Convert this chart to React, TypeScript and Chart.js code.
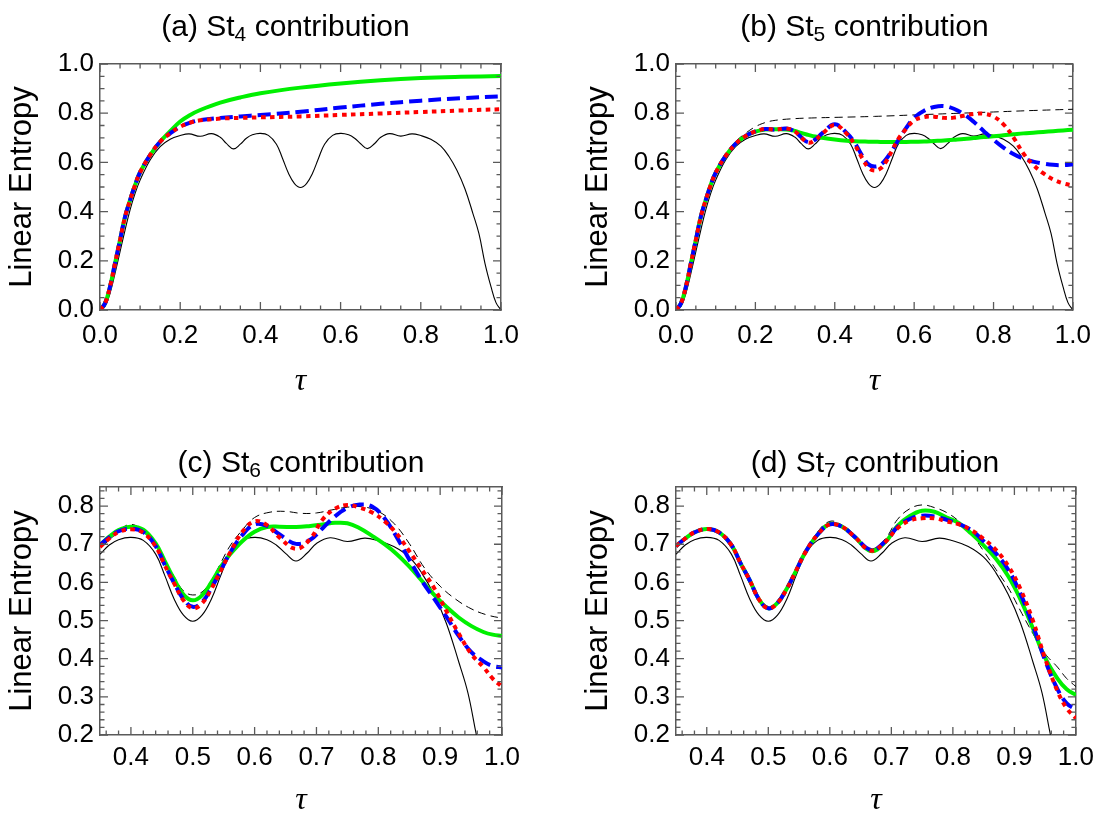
import React, { useEffect, useRef } from "react";
import { Chart, registerables } from "chart.js";

Chart.register(...registerables);

const FONT = "'Liberation Sans', Arial, Helvetica, sans-serif";
const FRAME = "#5a5a5a";

// ---------- data ----------
// thin solid black reference curve (same in all panels)
const tauRef = [0, 0.0125, 0.025, 0.0375, 0.05, 0.0625, 0.075, 0.0875, 0.1, 0.125, 0.15, 0.175, 0.2, 0.222, 0.25, 0.278, 0.3, 0.315, 0.333, 0.35, 0.365, 0.38, 0.4, 0.42, 0.44, 0.455, 0.47, 0.485, 0.5, 0.515, 0.53, 0.545, 0.56, 0.58, 0.6, 0.62, 0.635, 0.65, 0.667, 0.685, 0.7, 0.722, 0.75, 0.778, 0.8, 0.825, 0.85, 0.87, 0.89, 0.91, 0.93, 0.945, 0.96, 0.975, 0.9875, 1.0];
const refCurve = [0, 0.014, 0.068, 0.149, 0.237, 0.325, 0.407, 0.474, 0.528, 0.61, 0.664, 0.694, 0.709, 0.716, 0.706, 0.717, 0.702, 0.677, 0.655, 0.674, 0.698, 0.712, 0.718, 0.71, 0.674, 0.617, 0.556, 0.514, 0.498, 0.514, 0.556, 0.617, 0.674, 0.71, 0.718, 0.712, 0.698, 0.676, 0.656, 0.677, 0.702, 0.717, 0.707, 0.716, 0.709, 0.694, 0.666, 0.625, 0.568, 0.493, 0.392, 0.31, 0.19, 0.095, 0.03, 0];

// panel (a) St4
const tauA = [0, 0.0125, 0.025, 0.0375, 0.05, 0.0625, 0.075, 0.0875, 0.1, 0.125, 0.15, 0.175, 0.2, 0.225, 0.25, 0.3, 0.35, 0.4, 0.5, 0.6, 0.7, 0.8, 0.9, 1.0];
const greenA = [0, 0.027, 0.095, 0.19, 0.285, 0.379, 0.447, 0.508, 0.56, 0.63, 0.684, 0.727, 0.766, 0.793, 0.813, 0.843, 0.864, 0.881, 0.904, 0.921, 0.934, 0.943, 0.948, 0.951];
const blueA = [0, 0.027, 0.095, 0.19, 0.285, 0.379, 0.447, 0.508, 0.56, 0.63, 0.684, 0.718, 0.745, 0.762, 0.772, 0.781, 0.787, 0.793, 0.806, 0.823, 0.838, 0.851, 0.861, 0.868];
const redA = [0, 0.027, 0.095, 0.19, 0.285, 0.379, 0.447, 0.508, 0.56, 0.63, 0.684, 0.718, 0.745, 0.762, 0.771, 0.778, 0.781, 0.783, 0.787, 0.793, 0.799, 0.805, 0.811, 0.816];

// panel (b) St5
const tauB = [0, 0.0125, 0.025, 0.0375, 0.05, 0.0625, 0.075, 0.0875, 0.1, 0.125, 0.15, 0.175, 0.2, 0.225, 0.25, 0.278, 0.3, 0.315, 0.333, 0.35, 0.368, 0.4, 0.43, 0.45, 0.47, 0.485, 0.5, 0.515, 0.53, 0.545, 0.56, 0.58, 0.6, 0.625, 0.65, 0.675, 0.7, 0.725, 0.75, 0.775, 0.8, 0.825, 0.85, 0.875, 0.9, 0.925, 0.95, 0.975, 1.0];
const greenB = [0, 0.027, 0.095, 0.19, 0.285, 0.379, 0.447, 0.508, 0.558, 0.626, 0.675, 0.707, 0.725, 0.734, 0.735, 0.734, 0.728, 0.72, 0.712, 0.705, 0.7, 0.693, 0.688, 0.686, 0.685, 0.684, 0.684, 0.683, 0.683, 0.683, 0.683, 0.683, 0.684, 0.685, 0.687, 0.689, 0.692, 0.695, 0.699, 0.703, 0.706, 0.71, 0.714, 0.718, 0.721, 0.724, 0.727, 0.73, 0.733];
const blueB = [0, 0.027, 0.095, 0.19, 0.285, 0.379, 0.447, 0.508, 0.558, 0.626, 0.675, 0.707, 0.726, 0.736, 0.733, 0.738, 0.725, 0.703, 0.682, 0.692, 0.718, 0.755, 0.72, 0.68, 0.625, 0.592, 0.583, 0.59, 0.615, 0.65, 0.69, 0.74, 0.782, 0.81, 0.825, 0.829, 0.818, 0.796, 0.765, 0.728, 0.692, 0.66, 0.634, 0.615, 0.603, 0.595, 0.59, 0.589, 0.592];
const redB = [0, 0.027, 0.095, 0.19, 0.285, 0.379, 0.447, 0.508, 0.558, 0.626, 0.675, 0.707, 0.726, 0.736, 0.733, 0.738, 0.725, 0.702, 0.68, 0.69, 0.716, 0.752, 0.716, 0.672, 0.615, 0.578, 0.567, 0.575, 0.605, 0.65, 0.695, 0.737, 0.77, 0.784, 0.786, 0.781, 0.782, 0.79, 0.797, 0.798, 0.786, 0.755, 0.702, 0.637, 0.59, 0.556, 0.531, 0.515, 0.506];

// panels (c) St6 and (d) St7
const tauCD = [0.35, 0.365, 0.38, 0.4, 0.42, 0.44, 0.455, 0.47, 0.485, 0.5, 0.515, 0.53, 0.545, 0.56, 0.58, 0.6, 0.62, 0.64, 0.667, 0.69, 0.71, 0.73, 0.75, 0.77, 0.79, 0.81, 0.83, 0.85, 0.87, 0.89, 0.91, 0.93, 0.95, 0.97, 0.985, 1.0];
const greenC = [0.698, 0.72, 0.737, 0.746, 0.738, 0.702, 0.655, 0.608, 0.568, 0.553, 0.566, 0.6, 0.64, 0.673, 0.708, 0.733, 0.745, 0.746, 0.745, 0.748, 0.752, 0.756, 0.755, 0.742, 0.722, 0.7, 0.674, 0.642, 0.605, 0.568, 0.536, 0.508, 0.486, 0.47, 0.463, 0.46];
const blueC = [0.698, 0.718, 0.734, 0.741, 0.732, 0.695, 0.645, 0.598, 0.556, 0.536, 0.548, 0.585, 0.63, 0.677, 0.724, 0.752, 0.748, 0.726, 0.701, 0.712, 0.742, 0.773, 0.795, 0.804, 0.799, 0.768, 0.718, 0.66, 0.605, 0.558, 0.51, 0.46, 0.418, 0.393, 0.381, 0.377];
const redC = [0.693, 0.715, 0.732, 0.739, 0.73, 0.694, 0.644, 0.597, 0.553, 0.532, 0.545, 0.583, 0.63, 0.677, 0.732, 0.76, 0.75, 0.718, 0.688, 0.714, 0.765, 0.793, 0.803, 0.796, 0.783, 0.76, 0.727, 0.682, 0.634, 0.586, 0.525, 0.466, 0.413, 0.378, 0.348, 0.327];
const greenD = [0.695, 0.715, 0.731, 0.74, 0.731, 0.698, 0.65, 0.605, 0.555, 0.532, 0.546, 0.583, 0.63, 0.678, 0.725, 0.753, 0.746, 0.72, 0.682, 0.705, 0.748, 0.774, 0.788, 0.785, 0.77, 0.755, 0.728, 0.697, 0.662, 0.616, 0.555, 0.48, 0.402, 0.348, 0.32, 0.305];
const blueD = [0.695, 0.715, 0.731, 0.74, 0.731, 0.698, 0.65, 0.605, 0.555, 0.532, 0.546, 0.583, 0.63, 0.678, 0.725, 0.752, 0.746, 0.72, 0.685, 0.707, 0.745, 0.766, 0.775, 0.773, 0.764, 0.753, 0.737, 0.708, 0.676, 0.633, 0.57, 0.487, 0.395, 0.32, 0.283, 0.267];
const redD = [0.695, 0.715, 0.731, 0.74, 0.731, 0.698, 0.65, 0.605, 0.555, 0.532, 0.546, 0.583, 0.63, 0.678, 0.725, 0.752, 0.746, 0.72, 0.683, 0.706, 0.742, 0.762, 0.768, 0.768, 0.76, 0.752, 0.737, 0.714, 0.685, 0.643, 0.582, 0.5, 0.4, 0.315, 0.27, 0.244];

// tick labels
const xTicksTop = [0, 0.2, 0.4, 0.6, 0.8, 1.0];
const yTicksTop = [0, 0.2, 0.4, 0.6, 0.8, 1.0];
const xTicksBottom = [0.4, 0.5, 0.6, 0.7, 0.8, 0.9, 1.0];
const yTicksBottom = [0.2, 0.3, 0.4, 0.5, 0.6, 0.7, 0.8];

const titleSubs = ["4", "5", "6", "7"];
const titleLetters = ["(a)", "(b)", "(c)", "(d)"];

// ---------- helpers ----------
const pts = (xs: number[], ys: number[]) => xs.map((x, i) => ({ x, y: ys[i] }));

// inward major/minor ticks on all four sides, placed with the chart's own scales
function frameTicksPlugin(minorStep: number, xMajor: number[], yMajor: number[]) {
  return {
    id: "frameTicks",
    afterDatasetsDraw(chart: any) {
      const ctx = chart.ctx as CanvasRenderingContext2D;
      const area = chart.chartArea;
      const xs = chart.scales.x;
      const ys = chart.scales.y;
      const L = area.left;
      const R = area.right;
      const T = area.top;
      const B = area.bottom;
      ctx.save();
      ctx.strokeStyle = FRAME;
      ctx.lineWidth = 1.3;
      ctx.setLineDash([]);
      ctx.beginPath();
      const near = (v: number, arr: number[]) => arr.some((m) => Math.abs(m - v) < 1e-6);
      for (let i = Math.ceil(xs.min / minorStep - 1e-6); i <= Math.floor(xs.max / minorStep + 1e-6); i++) {
        const v = i * minorStep;
        const len = near(v, xMajor) ? 8 : 4.5;
        const px = xs.getPixelForValue(v);
        ctx.moveTo(px, B);
        ctx.lineTo(px, B - len);
        ctx.moveTo(px, T);
        ctx.lineTo(px, T + len);
      }
      for (let j = Math.ceil(ys.min / minorStep - 1e-6); j <= Math.floor(ys.max / minorStep + 1e-6); j++) {
        const v = j * minorStep;
        const len = near(v, yMajor) ? 8 : 4.5;
        const py = ys.getPixelForValue(v);
        ctx.moveTo(L, py);
        ctx.lineTo(L + len, py);
        ctx.moveTo(R, py);
        ctx.lineTo(R - len, py);
      }
      ctx.stroke();
      ctx.restore();
    },
  };
}

const GREEN = "#00f000";
const BLUE = "#0000ff";
const RED = "#ff0000";

function makeDatasets(tau: number[], green: number[], blue: number[], red: number[], prevTau?: number[], prevRed?: number[]) {
  const common = { pointRadius: 0, tension: 0.4, fill: false, borderCapStyle: "butt" as const };
  const ds: any[] = [
    { ...common, data: pts(tau, red), borderColor: RED, borderWidth: 4, borderDash: [4.5, 4.5] },
    { ...common, data: pts(tau, blue), borderColor: BLUE, borderWidth: 4, borderDash: [13, 6] },
    { ...common, data: pts(tau, green), borderColor: GREEN, borderWidth: 4 },
  ];
  if (prevTau && prevRed) {
    ds.push({ ...common, data: pts(prevTau, prevRed), borderColor: "#000", borderWidth: 1, borderDash: [8, 5] });
  }
  ds.push({ ...common, data: pts(tauRef, refCurve), borderColor: "#000", borderWidth: 1.1 });
  return ds;
}

type PanelCfg = {
  idx: number;
  left: number;
  top: number;
  w: number;
  h: number;
  pad: { left: number; right: number; top: number; bottom: number };
  xAxisH: number;
  xMin: number;
  xMax: number;
  yMin: number;
  yMax: number;
  xTicks: number[];
  yTicks: number[];
  minor: number;
  tickPad: number;
  tauPad: number;
  titleX: number;
  titleY: number;
  datasets: any[];
};

const panels: PanelCfg[] = [
  {
    idx: 0, left: 0, top: 0, w: 550, h: 410,
    pad: { left: 0, right: 49, top: 64, bottom: 0 }, xAxisH: 100,
    xMin: 0, xMax: 1, yMin: 0, yMax: 1, xTicks: xTicksTop, yTicks: yTicksTop, minor: 0.05,
    tickPad: 10, tauPad: 12, titleX: 285.5, titleY: 11,
    datasets: makeDatasets(tauA, greenA, blueA, redA),
  },
  {
    idx: 1, left: 550, top: 0, w: 551, h: 410,
    pad: { left: 26, right: 26, top: 64, bottom: 0 }, xAxisH: 100,
    xMin: 0, xMax: 1, yMin: 0, yMax: 1, xTicks: xTicksTop, yTicks: yTicksTop, minor: 0.05,
    tickPad: 10, tauPad: 12, titleX: 864.5, titleY: 11,
    datasets: makeDatasets(tauB, greenB, blueB, redB, tauA, redA),
  },
  {
    idx: 2, left: 0, top: 410, w: 550, h: 407,
    pad: { left: 0, right: 48, top: 77, bottom: 0 }, xAxisH: 82,
    xMin: 0.35, xMax: 1, yMin: 0.2, yMax: 0.85, xTicks: xTicksBottom, yTicks: yTicksBottom, minor: 0.02,
    tickPad: 7, tauPad: 0, titleX: 301, titleY: 447,
    datasets: makeDatasets(tauCD, greenC, blueC, redC, tauB, redB),
  },
  {
    idx: 3, left: 550, top: 410, w: 551, h: 407,
    pad: { left: 26, right: 25, top: 77, bottom: 0 }, xAxisH: 82,
    xMin: 0.35, xMax: 1, yMin: 0.2, yMax: 0.85, xTicks: xTicksBottom, yTicks: yTicksBottom, minor: 0.02,
    tickPad: 7, tauPad: 0, titleX: 875, titleY: 447,
    datasets: makeDatasets(tauCD, greenD, blueD, redD, tauCD, redC),
  },
];

function Panel({ cfg }: { cfg: PanelCfg }) {
  const ref = useRef<HTMLCanvasElement>(null);
  useEffect(() => {
    const frameBorder = { display: true, color: FRAME, width: 1.5 };
    const chart = new Chart(ref.current as HTMLCanvasElement, {
      type: "line",
      data: { datasets: cfg.datasets },
      plugins: [frameTicksPlugin(cfg.minor, cfg.xTicks, cfg.yTicks)],
      options: {
        animation: false,
        responsive: false,
        events: [],
        layout: { padding: cfg.pad },
        plugins: {
          legend: { display: false },
          tooltip: { enabled: false },
          title: { display: false },
        },
        scales: {
          x: {
            type: "linear",
            position: "bottom",
            min: cfg.xMin,
            max: cfg.xMax,
            grid: { display: false, drawTicks: false },
            border: frameBorder,
            afterBuildTicks: (s: any) => {
              s.ticks = cfg.xTicks.map((v) => ({ value: v }));
            },
            afterFit: (s: any) => {
              s.height = cfg.xAxisH;
            },
            ticks: {
              autoSkip: false,
              maxRotation: 0,
              minRotation: 0,
              padding: cfg.tickPad,
              color: "#000",
              font: { family: FONT, size: 26 },
              callback: (v: any) => Number(v).toFixed(1),
            },
            title: {
              display: true,
              text: "τ",
              color: "#000",
              font: { family: "'Liberation Serif', 'DejaVu Serif', serif", size: 32, style: "italic", lineHeight: 1 },
              padding: { top: 0, bottom: cfg.tauPad },
            },
          },
          xTop: {
            type: "linear",
            position: "top",
            min: cfg.xMin,
            max: cfg.xMax,
            grid: { display: false, drawTicks: false },
            border: frameBorder,
            ticks: { display: false },
            afterFit: (s: any) => {
              s.height = 0;
            },
          },
          y: {
            type: "linear",
            position: "left",
            min: cfg.yMin,
            max: cfg.yMax,
            grid: { display: false, drawTicks: false },
            border: frameBorder,
            afterBuildTicks: (s: any) => {
              s.ticks = cfg.yTicks.map((v) => ({ value: v }));
            },
            afterFit: (s: any) => {
              s.width = 100;
            },
            ticks: {
              padding: 6,
              color: "#000",
              font: { family: FONT, size: 26 },
              callback: (v: any) => Number(v).toFixed(1),
            },
            title: {
              display: true,
              text: "Linear Entropy",
              color: "#000",
              font: { family: FONT, size: 31, lineHeight: 1 },
              padding: { top: 7, bottom: 0 },
            },
          },
          yRight: {
            type: "linear",
            position: "right",
            min: cfg.yMin,
            max: cfg.yMax,
            grid: { display: false, drawTicks: false },
            border: frameBorder,
            ticks: { display: false },
            afterFit: (s: any) => {
              s.width = 0;
            },
          },
        },
      } as any,
    });
    return () => chart.destroy();
  }, [cfg]);

  return (
    <>
      <canvas
        ref={ref}
        width={cfg.w}
        height={cfg.h}
        style={{ position: "absolute", left: cfg.left, top: cfg.top, width: cfg.w, height: cfg.h, display: "block" }}
      />
      <div
        style={{
          position: "absolute",
          left: cfg.titleX - 200,
          top: cfg.titleY,
          width: 400,
          textAlign: "center",
          fontFamily: FONT,
          fontSize: 30,
          lineHeight: 1,
          color: "#000",
          whiteSpace: "nowrap",
        }}
      >
        {titleLetters[cfg.idx]} St
        <span style={{ fontSize: "0.7em", position: "relative", top: "0.22em" }}>{titleSubs[cfg.idx]}</span>
        {" contribution"}
      </div>
    </>
  );
}

export default function App() {
  return (
    <div
      style={{
        position: "absolute",
        left: 0,
        top: 0,
        width: 1101,
        height: 817,
        overflow: "hidden",
        background: "#fff",
      }}
    >
      {panels.map((p) => (
        <Panel key={p.idx} cfg={p} />
      ))}
    </div>
  );
}
